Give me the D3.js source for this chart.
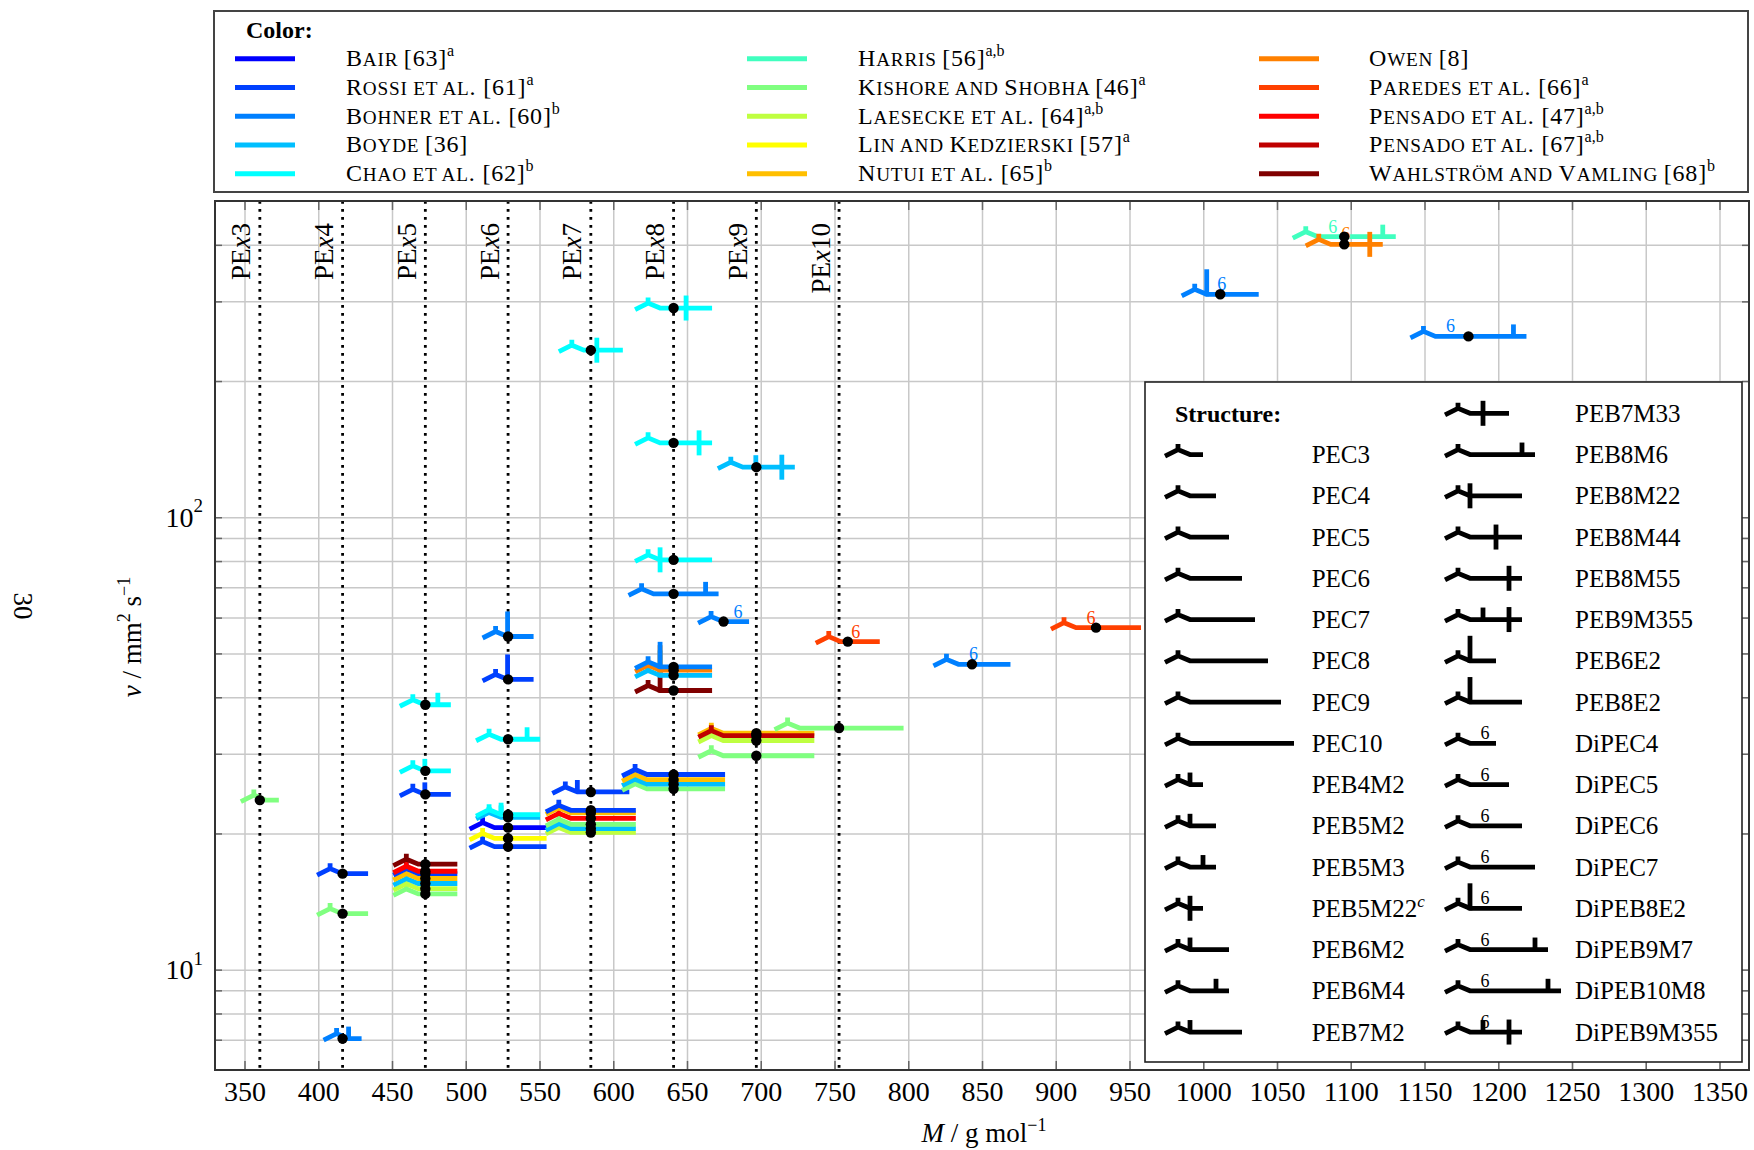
<!DOCTYPE html>
<html><head><meta charset="utf-8">
<script src="https://cdn.jsdelivr.net/npm/d3@7"></script>
<style>
body{margin:0;background:#fff}
svg{display:block}
text{font-family:"Liberation Serif","Times New Roman",serif;white-space:pre}
</style></head><body>
<svg id="c" width="1754" height="1150"></svg>
<script>
// ---------------- DATA ----------------
const sources = ["Bair","Rossi","Bohner","Boyde","Chao","Harris","Kishore","Laesecke","Lin","Nutui","Owen","Paredes","Pensado47","Pensado67","Wahlstrom"];
const sourceLabels = ["Bair [63]","Rossi et al. [61]","Bohner et al. [60]","Boyde [36]","Chao et al. [62]",
  "Harris [56]","Kishore and Shobha [46]","Laesecke et al. [64]","Lin and Kedzierski [57]","Nutui et al. [65]",
  "Owen [8]","Paredes et al. [66]","Pensado et al. [47]","Pensado et al. [67]","Wahlström and Vamling [68]"];
const sourceNotes = ["a","a","b","","b","a,b","a","a,b","a","b","","a","a,b","a,b","b"];
const sourceColors = ["#0000ff","#0040ff","#0080ff","#00bfff","#00ffff","#40ffbf","#80ff80","#bfff40","#ffff00","#ffbf00","#ff8000","#ff4000","#ff0000","#bf0000","#800000"];

// structures: main chain length (carbons), branches (carbon index, type), dipentaerythritol flag
const structures = {
  PEC3:{chain:3,br:[]}, PEC4:{chain:4,br:[]}, PEC5:{chain:5,br:[]}, PEC6:{chain:6,br:[]},
  PEC7:{chain:7,br:[]}, PEC8:{chain:8,br:[]}, PEC9:{chain:9,br:[]}, PEC10:{chain:10,br:[]},
  PEB4M2:{chain:3,br:[[2,"M"]]}, PEB5M2:{chain:4,br:[[2,"M"]]}, PEB5M3:{chain:4,br:[[3,"M"]]},
  PEB5M22:{chain:3,br:[[2,"X"]]}, PEB6M2:{chain:5,br:[[2,"M"]]}, PEB6M4:{chain:5,br:[[4,"M"]]},
  PEB7M2:{chain:6,br:[[2,"M"]]}, PEB7M33:{chain:5,br:[[3,"X"]]}, PEB8M6:{chain:7,br:[[6,"M"]]},
  PEB8M22:{chain:6,br:[[2,"X"]]}, PEB8M44:{chain:6,br:[[4,"X"]]}, PEB8M55:{chain:6,br:[[5,"X"]]},
  PEB9M355:{chain:6,br:[[3,"M"],[5,"X"]]}, PEB6E2:{chain:4,br:[[2,"E"]]}, PEB8E2:{chain:6,br:[[2,"E"]]},
  DiPEC4:{chain:4,br:[],di:true}, DiPEC5:{chain:5,br:[],di:true}, DiPEC6:{chain:6,br:[],di:true},
  DiPEC7:{chain:7,br:[],di:true}, DiPEB8E2:{chain:6,br:[[2,"E"]],di:true},
  DiPEB9M7:{chain:8,br:[[7,"M"]],di:true}, DiPEB10M8:{chain:9,br:[[8,"M"]],di:true},
  DiPEB9M355:{chain:6,br:[[3,"M"],[5,"X"]],di:true}
};
const structLegendCol1 = ["PEC3","PEC4","PEC5","PEC6","PEC7","PEC8","PEC9","PEC10","PEB4M2","PEB5M2","PEB5M3","PEB5M22","PEB6M2","PEB6M4","PEB7M2"];
const structLegendCol2 = ["PEB7M33","PEB8M6","PEB8M22","PEB8M44","PEB8M55","PEB9M355","PEB6E2","PEB8E2","DiPEC4","DiPEC5","DiPEC6","DiPEC7","DiPEB8E2","DiPEB9M7","DiPEB10M8","DiPEB9M355"];

const pexNames = ["3","4","5","6","7","8","9","10"];
const pexM = [360.4,416.5,472.6,528.7,584.8,640.9,697.0,753.1];

const pex3Points = [ {src:"Kishore",s:"PEC3",M:360.4,nu:23.7} ];
const pex4Points = [
  {src:"Rossi",s:"PEC4",M:416.5,nu:16.3},
  {src:"Kishore",s:"PEC4",M:416.5,nu:13.3},
  {src:"Bohner",s:"PEB4M2",M:416.5,nu:7.04} ];
const pex5Points = [
  {src:"Chao",s:"PEB5M3",M:472.6,nu:38.5},
  {src:"Chao",s:"PEB5M2",M:472.6,nu:27.5},
  {src:"Rossi",s:"PEB5M2",M:472.6,nu:24.4},
  {src:"Kishore",s:"PEC5",M:472.6,nu:14.7},
  {src:"Laesecke",s:"PEC5",M:472.6,nu:15.1},
  {src:"Boyde",s:"PEC5",M:472.6,nu:15.5},
  {src:"Nutui",s:"PEC5",M:472.6,nu:15.9},
  {src:"Rossi",s:"PEC5",M:472.6,nu:16.3},
  {src:"Pensado47",s:"PEC5",M:472.6,nu:16.5},
  {src:"Wahlstrom",s:"PEC5",M:472.6,nu:17.1} ];
const pex6Points = [
  {src:"Bohner",s:"PEB6E2",M:528.7,nu:54.5},
  {src:"Rossi",s:"PEB6E2",M:528.7,nu:43.8},
  {src:"Chao",s:"PEB6M4",M:528.7,nu:32.3},
  {src:"Rossi",s:"PEC6",M:528.7,nu:18.7},
  {src:"Lin",s:"PEC6",M:528.7,nu:19.5},
  {src:"Bair",s:"PEC6",M:528.7,nu:20.6},
  {src:"Boyde",s:"PEB6M2",M:528.7,nu:21.7},
  {src:"Chao",s:"PEB6M2",M:528.7,nu:22.0} ];
const pex7Points = [
  {src:"Chao",s:"PEB7M33",M:584.8,nu:234},
  {src:"Rossi",s:"PEB7M2",M:584.8,nu:24.7},
  {src:"Laesecke",s:"PEC7",M:584.8,nu:20.1},
  {src:"Boyde",s:"PEC7",M:584.8,nu:20.5},
  {src:"Kishore",s:"PEC7",M:584.8,nu:20.95},
  {src:"Pensado47",s:"PEC7",M:584.8,nu:21.6},
  {src:"Nutui",s:"PEC7",M:584.8,nu:22.2},
  {src:"Rossi",s:"PEC7",M:584.8,nu:22.5} ];
const pex8Points = [
  {src:"Chao",s:"PEB8M44",M:640.9,nu:290},
  {src:"Chao",s:"PEB8M55",M:640.9,nu:146},
  {src:"Chao",s:"PEB8M22",M:640.9,nu:80.5},
  {src:"Bohner",s:"PEB8M6",M:640.9,nu:67.7},
  {src:"Wahlstrom",s:"PEB8E2",M:640.9,nu:41.4},
  {src:"Boyde",s:"PEB8E2",M:640.9,nu:44.7},
  {src:"Owen",s:"PEB8E2",M:640.9,nu:45.9},
  {src:"Bohner",s:"PEB8E2",M:640.9,nu:46.7},
  {src:"Kishore",s:"PEC8",M:640.9,nu:25.1},
  {src:"Boyde",s:"PEC8",M:640.9,nu:25.7},
  {src:"Nutui",s:"PEC8",M:640.9,nu:26.3},
  {src:"Rossi",s:"PEC8",M:640.9,nu:27.0} ];
const pex9Points = [
  {src:"Boyde",s:"PEB9M355",M:697.0,nu:129},
  {src:"Kishore",s:"PEC9",M:697.0,nu:29.7},
  {src:"Laesecke",s:"PEC9",M:697.0,nu:32.1},
  {src:"Nutui",s:"PEC9",M:697.0,nu:33.3},
  {src:"Pensado67",s:"PEC9",M:697.0,nu:32.9} ];
const pex10Points = [ {src:"Kishore",s:"PEC10",M:753.1,nu:34.2} ];
const dipePoints = [
  {src:"Bohner",s:"DiPEC4",M:674.8,nu:58.8},
  {src:"Paredes",s:"DiPEC5",M:759.0,nu:53.1},
  {src:"Bohner",s:"DiPEC6",M:843.2,nu:47.3},
  {src:"Paredes",s:"DiPEC7",M:927.3,nu:57.0},
  {src:"Bohner",s:"DiPEB8E2",M:1011.5,nu:311},
  {src:"Harris",s:"DiPEB9M7",M:1095.6,nu:417},
  {src:"Owen",s:"DiPEB9M355",M:1095.6,nu:401},
  {src:"Bohner",s:"DiPEB10M8",M:1179.8,nu:251} ];

const xTickValues = [350,400,450,500,550,600,650,700,750,800,850,900,950,1000,1050,1100,1150,1200,1250,1300,1350];
const yGridValues = [7,8,9,10,20,30,40,50,60,70,80,90,100,200,300,400];
const yLabelValues = [10,100];
const yLabelExp = ["1","2"];

// ---------------- DRAWING ----------------
const svg = d3.select("#c");
const L=215, R=1749, T=201, B=1070;
const x = d3.scaleLinear().domain([330,1370]).range([L,R]);
const y = d3.scaleLog().domain([6,500]).range([B,T]);
const colorOf = d3.scaleOrdinal().domain(sources).range(sourceColors);

const HEAD=25, SEG=13, SW=4.8;
function cx(c){ return HEAD + SEG*(c-2); }
function glyphWidth(st){ return cx(st.chain); }
function drawGlyph(g, st, color){
  const end = glyphWidth(st);
  g.append("path").attr("d",`M0,1.5L13,-5L${HEAD},0L${end},0M13,-5L13,-10.5`)
    .attr("fill","none").attr("stroke",color).attr("stroke-width",SW).attr("stroke-linejoin","miter");
  st.br.forEach(([c,t])=>{
    const bx = cx(c);
    let y1=0,y2=-12;
    if(t==="X"){y1=12.5;y2=-12.5;}
    if(t==="E"){y1=2;y2=-25;}
    g.append("line").attr("x1",bx).attr("x2",bx).attr("y1",y1).attr("y2",y2)
      .attr("stroke",color).attr("stroke-width",SW);
  });
  if(st.di){
    g.append("text").attr("x",40).attr("y",-4).attr("text-anchor","middle")
      .attr("font-size",18).attr("fill",color).text("6");
  }
}

// gridlines via axes
svg.append("g").attr("transform",`translate(0,${B})`)
  .call(d3.axisBottom(x).tickValues(xTickValues).tickSize(-(B-T)).tickFormat(""))
  .call(g=>g.select(".domain").remove())
  .call(g=>g.selectAll("line").attr("stroke","#c8c8c8").attr("stroke-width",1.5));
svg.append("g").attr("transform",`translate(${L},0)`)
  .call(d3.axisLeft(y).tickValues(yGridValues).tickSize(-(R-L)).tickFormat(""))
  .call(g=>g.select(".domain").remove())
  .call(g=>g.selectAll("line").attr("stroke","#c8c8c8").attr("stroke-width",1.5));

// tick marks on all four sides
function tickStyle(g){ g.select(".domain").remove(); g.selectAll("line").attr("stroke","#666").attr("stroke-width",1.5); }
const axB = svg.append("g").attr("transform",`translate(0,${B})`)
  .call(d3.axisBottom(x).tickValues(xTickValues).tickSize(-9).tickPadding(11).tickFormat(d3.format("d")))
  .call(tickStyle);
axB.selectAll("text").attr("font-family","Liberation Serif").attr("font-size",28).attr("fill","#000");
svg.append("g").attr("transform",`translate(0,${T})`)
  .call(d3.axisTop(x).tickValues(xTickValues).tickSize(-9).tickFormat("")).call(tickStyle);
const axL = svg.append("g").attr("transform",`translate(${L},0)`)
  .call(d3.axisLeft(y).tickValues(yGridValues).tickSize(-7).tickPadding(12)
    .tickFormat(v=> yLabelValues.includes(v) ? "10" : "")).call(tickStyle);
axL.selectAll("text").attr("font-family","Liberation Serif").attr("font-size",28).attr("fill","#000")
  .attr("dy","0.32em")
  .each(function(v){ const i=yLabelValues.indexOf(v); if(i>=0){
    d3.select(this).append("tspan").attr("font-size",19).attr("dy","-0.75em").text(yLabelExp[i]); }});
svg.append("g").attr("transform",`translate(${R},0)`)
  .call(d3.axisRight(y).tickValues(yGridValues).tickSize(-7).tickFormat("")).call(tickStyle);

// dotted PE lines and labels
const pex = svg.append("g");
pexM.forEach((m,i)=>{
  pex.append("line").attr("x1",x(m)).attr("x2",x(m)).attr("y1",T).attr("y2",B)
    .attr("stroke","#000").attr("stroke-width",2.8).attr("stroke-dasharray","2.8,5.2");
  const t = pex.append("text").attr("transform",`translate(${x(m)-9.5},223) rotate(-90)`)
    .attr("text-anchor","end").attr("font-size",27);
  t.append("tspan").text("PE");
  t.append("tspan").attr("font-style","italic").text("x");
  t.append("tspan").text(pexNames[i]);
});

// glyphs
const allPoints = [].concat(pex3Points,pex4Points,pex5Points,pex6Points,pex7Points,pex8Points,pex9Points,pex10Points,dipePoints);
const gl = svg.append("g");
allPoints.forEach(p=>{
  const st = structures[p.s];
  const g = gl.append("g").attr("transform",`translate(${x(p.M)-glyphWidth(st)/2},${y(p.nu)})`);
  drawGlyph(g, st, colorOf(p.src));
});
svg.append("g").selectAll("circle").data(allPoints).join("circle")
  .attr("cx",d=>x(d.M)).attr("cy",d=>y(d.nu)).attr("r",5.2).attr("fill","#000");

// frame
svg.append("rect").attr("x",L).attr("y",T).attr("width",R-L).attr("height",B-T)
  .attr("fill","none").attr("stroke","#333").attr("stroke-width",2);

// axis titles
const xt = svg.append("text").attr("x",984).attr("y",1142).attr("text-anchor","middle").attr("font-size",27);
xt.append("tspan").attr("font-style","italic").text("M");
xt.append("tspan").text(" / g mol");
xt.append("tspan").attr("font-size",18).attr("dy",-11).text("−1");
const yt = svg.append("text").attr("transform","translate(141,637) rotate(-90)").attr("text-anchor","middle").attr("font-size",27);
yt.append("tspan").attr("font-style","italic").text("ν");
yt.append("tspan").text(" / mm");
yt.append("tspan").attr("font-size",18).attr("dy",-11).text("2");
yt.append("tspan").attr("dy",11).text(" s");
yt.append("tspan").attr("font-size",18).attr("dy",-11).text("−1");
svg.append("text").attr("transform","translate(23,606) rotate(90)").attr("text-anchor","middle")
  .attr("dominant-baseline","central").attr("font-size",27).text("30");

// ---------------- COLOR LEGEND ----------------
const lg = svg.append("g");
lg.append("rect").attr("x",214).attr("y",11).attr("width",1534).attr("height",181)
  .attr("fill","#fff").attr("stroke","#444").attr("stroke-width",2);
lg.append("text").attr("x",246).attr("y",38).attr("font-size",24).attr("font-weight","bold").text("Color:");
function addSmallCaps(t, str, size){
  const runs=[]; let cur=null;
  for(const ch of str){
    if(ch===" " && cur){ cur.t+=" "; continue; }
    const small = ch!==ch.toUpperCase();
    if(!cur || cur.small!==small){ cur={small,t:""}; runs.push(cur); }
    cur.t += ch.toUpperCase();
  }
  runs.forEach(r=>t.append("tspan").attr("font-size",r.small?size*0.8:size).text(r.t));
}
const colLineX = [235,747,1259], colTextX = [346,858,1369];
sources.forEach((s,i)=>{
  const col = Math.floor(i/5), row = i%5;
  const ry = 58.7 + 28.75*row;
  lg.append("line").attr("x1",colLineX[col]).attr("x2",colLineX[col]+60).attr("y1",ry).attr("y2",ry)
    .attr("stroke",colorOf(s)).attr("stroke-width",5);
  const t = lg.append("text").attr("x",colTextX[col]).attr("y",ry+7.5).attr("font-size",24).attr("letter-spacing",0.8);
  addSmallCaps(t, sourceLabels[i], 24);
  if(sourceNotes[i]) t.append("tspan").attr("font-size",16).attr("dy",-10).attr("letter-spacing",0).text(sourceNotes[i]);
});

// ---------------- STRUCTURE LEGEND ----------------
const sg = svg.append("g");
sg.append("rect").attr("x",1145).attr("y",382).attr("width",597).attr("height",680)
  .attr("fill","#fff").attr("stroke","#222").attr("stroke-width",1.6);
sg.append("text").attr("x",1175).attr("y",421.7).attr("font-size",24).attr("font-weight","bold").text("Structure:");
function legendRow(name, gx, tx, ry){
  const g = sg.append("g").attr("transform",`translate(${gx},${ry})`);
  drawGlyph(g, structures[name], "#000");
  const t = sg.append("text").attr("x",tx).attr("y",ry+8.5).attr("font-size",25);
  if(name==="PEB5M22"){ t.append("tspan").text(name); t.append("tspan").attr("font-style","italic").attr("font-size",17).attr("dy",-10).text("c"); }
  else t.text(name);
}
structLegendCol1.forEach((n,i)=>legendRow(n,1165,1311.7,413.3+41.25*(i+1)));
structLegendCol2.forEach((n,i)=>legendRow(n,1445,1575,413.3+41.25*i));
</script>
</body></html>
